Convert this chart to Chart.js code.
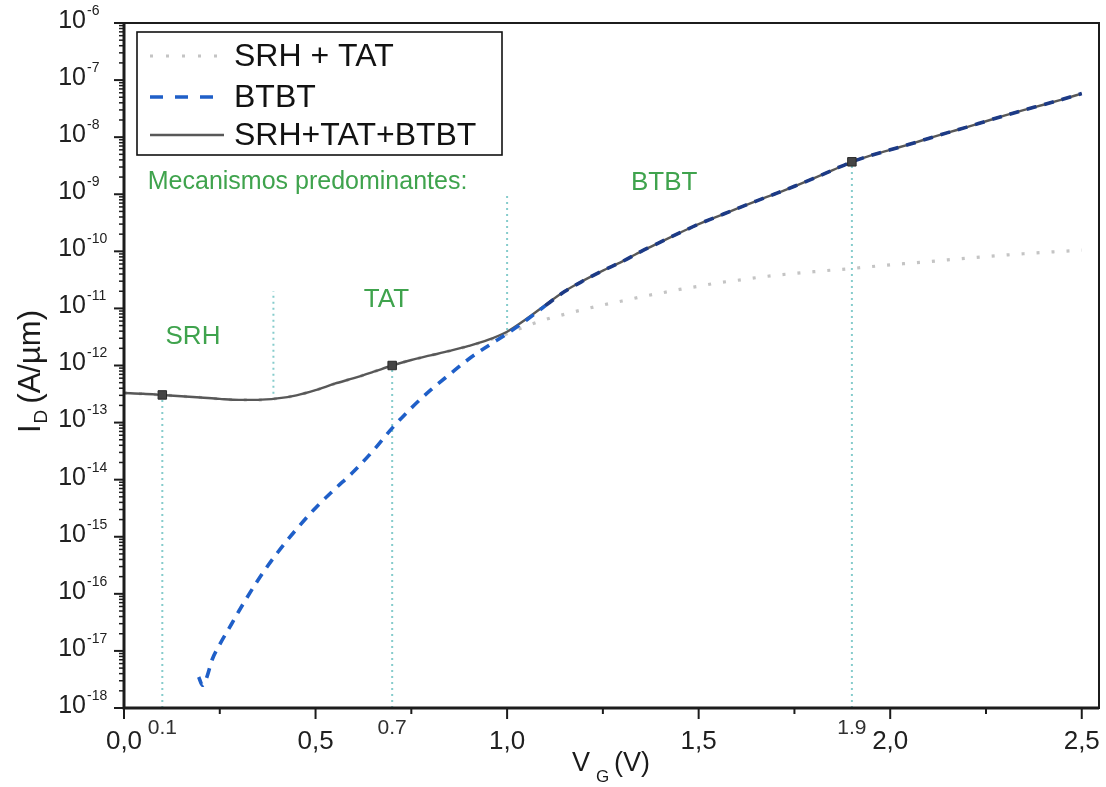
<!DOCTYPE html>
<html><head><meta charset="utf-8">
<script src="https://cdn.jsdelivr.net/npm/chart.js@4"></script>
<style>html,body{margin:0;padding:0;background:#fff;overflow:hidden}</style>
</head><body>
<canvas id="c" width="1106" height="787"></canvas>
<script>
// ---------- data ----------
const vg = [0.00,0.05,0.10,0.15,0.20,0.25,0.30,0.35,0.40,0.45,0.50,0.55,0.60,0.65,0.70,0.75,0.80,0.85,0.90,0.95,1.00,1.05,1.10,1.15,1.20,1.25,1.30,1.35,1.40,1.45,1.50,1.55,1.60,1.65,1.70,1.75,1.80,1.85,1.90,1.95,2.00,2.05,2.10,2.15,2.20,2.25,2.30,2.35,2.40,2.45,2.50];
const iTotal = [3.3e-13,3.2e-13,3.05e-13,2.9e-13,2.75e-13,2.6e-13,2.5e-13,2.5e-13,2.65e-13,3.0e-13,3.7e-13,4.8e-13,6.0e-13,7.7e-13,1.0e-12,1.25e-12,1.5e-12,1.8e-12,2.2e-12,2.8e-12,3.9e-12,6.5e-12,1.15e-11,2.0e-11,3.1e-11,4.6e-11,6.6e-11,1.0e-10,1.45e-10,2.1e-10,3.0e-10,4.1e-10,5.6e-10,7.6e-10,1.02e-9,1.38e-9,1.9e-9,2.65e-9,3.7e-9,4.8e-9,6.0e-9,7.5e-9,9.5e-9,1.2e-8,1.5e-8,1.9e-8,2.4e-8,3.0e-8,3.7e-8,4.6e-8,5.8e-8];
const iSrhTat = [3.3e-13,3.2e-13,3.05e-13,2.9e-13,2.75e-13,2.6e-13,2.5e-13,2.5e-13,2.65e-13,3.0e-13,3.7e-13,4.8e-13,6.0e-13,7.7e-13,1.0e-12,1.25e-12,1.5e-12,1.8e-12,2.2e-12,2.75e-12,3.6e-12,4.9e-12,6.4e-12,7.9e-12,9.6e-12,1.15e-11,1.35e-11,1.6e-11,1.85e-11,2.15e-11,2.45e-11,2.8e-11,3.1e-11,3.45e-11,3.8e-11,4.1e-11,4.4e-11,4.7e-11,5.0e-11,5.4e-11,5.8e-11,6.2e-11,6.6e-11,7.1e-11,7.6e-11,8.1e-11,8.6e-11,9.1e-11,9.6e-11,1.0e-10,1.05e-10];
const vgBtbt = [0.195,0.205,0.215,0.23,0.25,0.28,0.30,0.35,0.40,0.45,0.50,0.55,0.60,0.65,0.70,0.75,0.80,0.85,0.90,0.95,1.00,1.05,1.10,1.15,1.20,1.25,1.30,1.35,1.40,1.45,1.50,1.55,1.60,1.65,1.70,1.75,1.80,1.85,1.90,1.95,2.00,2.05,2.10,2.15,2.20,2.25,2.30,2.35,2.40,2.45,2.50];
const iBtbt = [3.5e-18,2.5e-18,3.3e-18,7e-18,1.3e-17,2.9e-17,5e-17,1.75e-16,5.2e-16,1.35e-15,3.2e-15,6.8e-15,1.4e-14,3.2e-14,8e-14,1.8e-13,3.7e-13,7.0e-13,1.3e-12,2.2e-12,3.6e-12,6.2e-12,1.12e-11,1.97e-11,3.08e-11,4.6e-11,6.6e-11,1.0e-10,1.45e-10,2.1e-10,3.0e-10,4.1e-10,5.6e-10,7.6e-10,1.02e-9,1.38e-9,1.9e-9,2.65e-9,3.7e-9,4.8e-9,6.0e-9,7.5e-9,9.5e-9,1.2e-8,1.5e-8,1.9e-8,2.4e-8,3.0e-8,3.7e-8,4.6e-8,5.8e-8];
const seriesLabels = ['SRH + TAT','BTBT','SRH+TAT+BTBT'];
const markerV = [0.1,0.7,1.9];
const markerI = [3.05e-13,1.0e-12,3.7e-9];
const guideV = [0.1,0.39,0.7,1.0,1.9];
const guideFrom = [1e-18,3.2e-13,1e-18,4.2e-12,1e-18];
const guideTo = [3.0e-13,2e-11,1.0e-12,1e-9,3.7e-9];
const yExponents = [-6,-7,-8,-9,-10,-11,-12,-13,-14,-15,-16,-17,-18];
const xTicks = [0,0.5,1.0,1.5,2.0,2.5];
const xTickLabels = ['0,0','0,5','1,0','1,5','2,0','2,5'];
const xMinorTicks = [0.25,0.75,1.25,1.75,2.25];
const xExtraTicks = [0.1,0.7,1.9];
const xExtraLabels = ['0.1','0.7','1.9'];
const regionTexts = [
  {t:'Mecanismos predominantes:', v:0.062, i:1.6e-9, align:'left'},
  {t:'SRH', v:0.18, i:3.2e-12, align:'center'},
  {t:'TAT', v:0.685, i:1.4e-11, align:'center'},
  {t:'BTBT', v:1.41, i:1.6e-9, align:'center'}
];

// ---------- styles ----------
const FONT = '"Liberation Sans", Arial, Helvetica, sans-serif';
const C_SRH = '#c4c4c4', C_BTBT = '#1f5fc8', C_BTBT_DARK = '#1c3a86', C_TOT = '#585858', C_GUIDE = '#86cccc', C_GREEN = '#3fa34d';

const pts = (xs, ys) => xs.map((x, k) => ({x, y: ys[k]}));

const datasets = [
  {label: seriesLabels[0], data: pts(vg, iSrhTat), borderColor: C_SRH, borderWidth: 3.2,
   borderDash: [3, 12], borderCapStyle: 'butt', pointRadius: 0, cubicInterpolationMode: 'monotone', order: 4, legend: true},
  {label: seriesLabels[1], data: pts(vgBtbt, iBtbt), borderColor: C_BTBT, borderWidth: 3.6,
   borderDash: [10, 8], pointRadius: 0, cubicInterpolationMode: 'monotone', order: 1, legend: true,
   segment: {borderColor: c => (c.p0.parsed.x >= 1.1 ? C_BTBT_DARK : undefined)}},
  {label: seriesLabels[2], data: pts(vg, iTotal), borderColor: C_TOT, borderWidth: 2.4,
   pointRadius: 0, cubicInterpolationMode: 'monotone', order: 2, legend: true},
  {label: 'markers', data: pts(markerV, markerI), showLine: false, pointStyle: 'rect', pointRadius: 6,
   backgroundColor: '#454545', borderColor: '#2a2a2a', borderWidth: 1, order: 0}
];
guideV.forEach((v, k) => datasets.push({
  label: 'guide', data: [{x: v, y: guideFrom[k]}, {x: v, y: guideTo[k]}],
  borderColor: C_GUIDE, borderWidth: 2, borderDash: [2, 4], pointRadius: 0, order: 5
}));

const deco = {
  id: 'deco',
  afterDatasetsDraw(chart) {
    const {ctx, chartArea: a, scales: {x, y}} = chart;
    ctx.save();
    // frame
    ctx.strokeStyle = '#1c1c1c';
    ctx.lineWidth = 2;
    ctx.strokeRect(a.left, a.top, a.right - a.left, a.bottom - a.top);
    ctx.lineWidth = 3;
    ctx.beginPath(); ctx.moveTo(a.left, a.top); ctx.lineTo(a.left, a.bottom); ctx.lineTo(a.right, a.bottom); ctx.stroke();
    // y ticks
    ctx.lineWidth = 2;
    yExponents.forEach(e => {
      const ty = y.getPixelForValue(Math.pow(10, e));
      ctx.beginPath(); ctx.moveTo(a.left - 10, ty); ctx.lineTo(a.left, ty); ctx.stroke();
      if (e < -6) {
        for (let m = 2; m <= 9; m++) {
          const my = y.getPixelForValue(m * Math.pow(10, e));
          ctx.lineWidth = 1.5;
          ctx.beginPath(); ctx.moveTo(a.left - 5, my); ctx.lineTo(a.left, my); ctx.stroke();
          ctx.lineWidth = 2;
        }
      }
      ctx.fillStyle = '#202020';
      ctx.font = '25px ' + FONT; ctx.textAlign = 'right'; ctx.textBaseline = 'middle';
      ctx.fillText('10', 86, ty - 2);
      ctx.font = '14px ' + FONT; ctx.textAlign = 'left';
      ctx.fillText('-' + Math.abs(e), 87, ty - 12);
    });
    // x ticks
    xTicks.forEach((v, k) => {
      const tx = x.getPixelForValue(v);
      ctx.lineWidth = 2;
      ctx.beginPath(); ctx.moveTo(tx, a.bottom); ctx.lineTo(tx, a.bottom + 11); ctx.stroke();
      ctx.fillStyle = '#202020';
      ctx.font = '26px ' + FONT; ctx.textAlign = 'center'; ctx.textBaseline = 'middle';
      ctx.fillText(xTickLabels[k], tx, 742);
    });
    xMinorTicks.forEach(v => {
      const tx = x.getPixelForValue(v);
      ctx.lineWidth = 2;
      ctx.beginPath(); ctx.moveTo(tx, a.bottom); ctx.lineTo(tx, a.bottom + 6); ctx.stroke();
    });
    xExtraTicks.forEach((v, k) => {
      const tx = x.getPixelForValue(v);
      ctx.fillStyle = '#303030';
      ctx.font = '21px ' + FONT; ctx.textAlign = 'center'; ctx.textBaseline = 'middle';
      ctx.fillText(xExtraLabels[k], tx, 728);
    });
    // axis titles
    ctx.fillStyle = '#1a1a1a'; ctx.textAlign = 'left'; ctx.textBaseline = 'alphabetic';
    ctx.font = '27px ' + FONT; ctx.fillText('V', 572, 771);
    ctx.font = '17px ' + FONT; ctx.fillText('G', 596, 782);
    ctx.font = '27px ' + FONT; ctx.fillText('(V)', 614, 771);
    ctx.save();
    ctx.translate(40, 433); ctx.rotate(-Math.PI / 2);
    ctx.font = '31px ' + FONT; ctx.fillText('I', 0, 0);
    let w = ctx.measureText('I').width + 1;
    ctx.font = '19px ' + FONT; ctx.fillText('D', w, 7);
    w += ctx.measureText('D').width + 6;
    ctx.font = '31px ' + FONT; ctx.fillText('(A/\u00b5m)', w, 0);
    ctx.restore();
    // region texts
    ctx.fillStyle = C_GREEN; ctx.textBaseline = 'middle';
    regionTexts.forEach(r => {
      ctx.font = (r.align === 'left' ? '25px ' : '26px ') + FONT;
      ctx.textAlign = r.align;
      ctx.fillText(r.t, x.getPixelForValue(r.v), y.getPixelForValue(r.i));
    });
    // legend
    const lx = 137, ly = 32, lw = 365, lh = 123;
    ctx.fillStyle = '#fff'; ctx.fillRect(lx, ly, lw, lh);
    ctx.strokeStyle = '#111'; ctx.lineWidth = 1.6; ctx.strokeRect(lx, ly, lw, lh);
    const rows = [56, 97, 135];
    chart.data.datasets.filter(d => d.legend).forEach((d, k) => {
      const ry = rows[k];
      ctx.save();
      ctx.strokeStyle = d.borderColor; ctx.lineWidth = d.borderWidth;
      ctx.setLineDash(d.borderDash ? (k === 1 ? [13, 12] : [3, 13]) : []);
      ctx.lineCap = 'butt';
      ctx.beginPath(); ctx.moveTo(150, ry); ctx.lineTo(224, ry); ctx.stroke();
      ctx.restore();
      ctx.fillStyle = '#121212'; ctx.font = '32px ' + FONT; ctx.textAlign = 'left'; ctx.textBaseline = 'middle';
      ctx.fillText(d.label, 234, ry + 1);
    });
    ctx.restore();
  }
};

new Chart(document.getElementById('c'), {
  type: 'line',
  data: {datasets},
  options: {
    responsive: false,
    animation: false,
    layout: {padding: {left: 124, right: 4, top: 23, bottom: 79}},
    plugins: {legend: {display: false}, tooltip: {enabled: false}},
    scales: {
      x: {type: 'linear', min: 0, max: 2.545, display: false},
      y: {type: 'logarithmic', min: 1e-18, max: 1e-6, display: false}
    }
  },
  plugins: [deco]
});
</script>
</body></html>
